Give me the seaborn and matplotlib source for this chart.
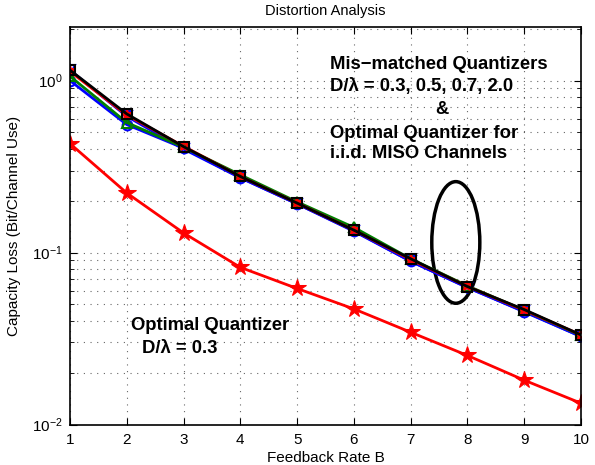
import numpy as np
import pandas as pd
import matplotlib
matplotlib.use("Agg")
import matplotlib.pyplot as plt
import seaborn as sns
from matplotlib.patches import Ellipse
from matplotlib.ticker import LogLocator, NullFormatter

# feedback rate B
feedback_rate = [1, 2, 3, 4, 5, 6, 7, 8, 9, 10]

# mis-matched quantizers, D/lambda = 0.3, 0.5, 0.7, 2.0
mm_03 = [1.00, 0.555, 0.405, 0.273, 0.192, 0.134, 0.089, 0.0628, 0.0452, 0.0325]
mm_05 = [1.06, 0.57, 0.41, 0.283, 0.197, 0.140, 0.092, 0.0640, 0.0462, 0.0330]
mm_07 = [1.13, 0.63, 0.415, 0.277, 0.194, 0.135, 0.091, 0.0635, 0.0462, 0.0332]
mm_20 = [1.15, 0.64, 0.413, 0.277, 0.194, 0.135, 0.092, 0.0634, 0.0466, 0.0332]
# optimal quantizer for i.i.d. MISO channels
iid_opt = [1.15, 0.62, 0.40, 0.272, 0.192, 0.133, 0.089, 0.0625, 0.0455, 0.0325]
# optimal quantizer D/lambda = 0.3
opt_03 = [0.43, 0.222, 0.130, 0.082, 0.0618, 0.047, 0.0344, 0.0252, 0.0181, 0.0133]

sns.set_style("ticks", {"axes.edgecolor": "black", "text.color": "black",
                        "axes.labelcolor": "black", "xtick.color": "black",
                        "ytick.color": "black"})
plt.rcParams["font.family"] = ["Liberation Sans", "DejaVu Sans"]

fig = plt.figure(figsize=(5.95, 4.65), dpi=100)
ax = fig.add_axes([70 / 595, 1 - 424.5 / 465, 511 / 595, 397.5 / 465])

series = [
    (iid_opt, "blue", "v"),
    (mm_03, "blue", "o"),
    (mm_05, "green", "^"),
    (mm_07, "red", "*"),
    (mm_20, "black", "s"),
]
for vals, col, mk in series:
    d = pd.DataFrame({"B": feedback_rate, "loss": vals})
    sns.lineplot(data=d, x="B", y="loss", ax=ax, color=col, marker=mk,
                 markersize=7, linewidth=2, markerfacecolor="none",
                 markeredgecolor=col, markeredgewidth=1.5)

d = pd.DataFrame({"B": feedback_rate, "loss": opt_03})
sns.lineplot(data=d, x="B", y="loss", ax=ax, color="red", marker="*",
             markersize=13, linewidth=2, markeredgecolor="red")

ax.set_yscale("log")
ax.set_xlim(1, 10)
ax.set_ylim(0.01, 2.05)
ax.set_xticks(feedback_rate)
ax.yaxis.set_major_locator(LogLocator(base=10, numticks=5))
ax.yaxis.set_minor_locator(LogLocator(base=10, subs=np.arange(2, 10), numticks=20))
ax.yaxis.set_minor_formatter(NullFormatter())

ax.grid(True, which="major", axis="both", linestyle=(0, (1, 5)), color="black",
        linewidth=0.8, alpha=0.6)
ax.grid(True, which="minor", axis="y", linestyle=(0, (1, 5)), color="black",
        linewidth=0.8, alpha=0.6)
ax.tick_params(which="both", direction="in", top=True, right=True, labelsize=11,
               colors="black")
ax.tick_params(which="major", length=5)
ax.tick_params(which="minor", length=3)
ax.tick_params(axis="x", pad=6)
ax.tick_params(axis="y", pad=5)
for s in ax.spines.values():
    s.set_linewidth(1.2)
    s.set_color("black")

ax.set_xlabel("Feedback Rate B", fontsize=11, labelpad=3, color="black")
ax.set_ylabel("Capacity Loss (Bit/Channel Use)", fontsize=11, labelpad=8, color="black")
ax.set_title("Distortion Analysis", fontsize=10.5, pad=9, color="black")

ax.add_patch(Ellipse((0.755, 0.458), 0.094, 0.306, transform=ax.transAxes,
                     fill=False, edgecolor="black", linewidth=2.5))

tkw = dict(transform=fig.transFigure, fontsize=13.3, fontweight="bold",
           va="center", color="black")
fig.text(330 / 595, 1 - 64 / 465, "Mis\u2212matched Quantizers", **tkw)
fig.text(330 / 595, 1 - 87 / 465, "D/\u03bb = 0.3, 0.5, 0.7, 2.0", **tkw)
fig.text(442 / 595, 1 - 109 / 465, "&", ha="center", **tkw)
fig.text(330 / 595, 1 - 133 / 465, "Optimal Quantizer for", **tkw)
fig.text(330 / 595, 1 - 154 / 465, "i.i.d. MISO Channels", **tkw)
fig.text(131 / 595, 1 - 325 / 465, "Optimal Quantizer", **tkw)
fig.text(142 / 595, 1 - 348 / 465, "D/\u03bb = 0.3", **tkw)

fig.savefig("out.png", dpi=100)
